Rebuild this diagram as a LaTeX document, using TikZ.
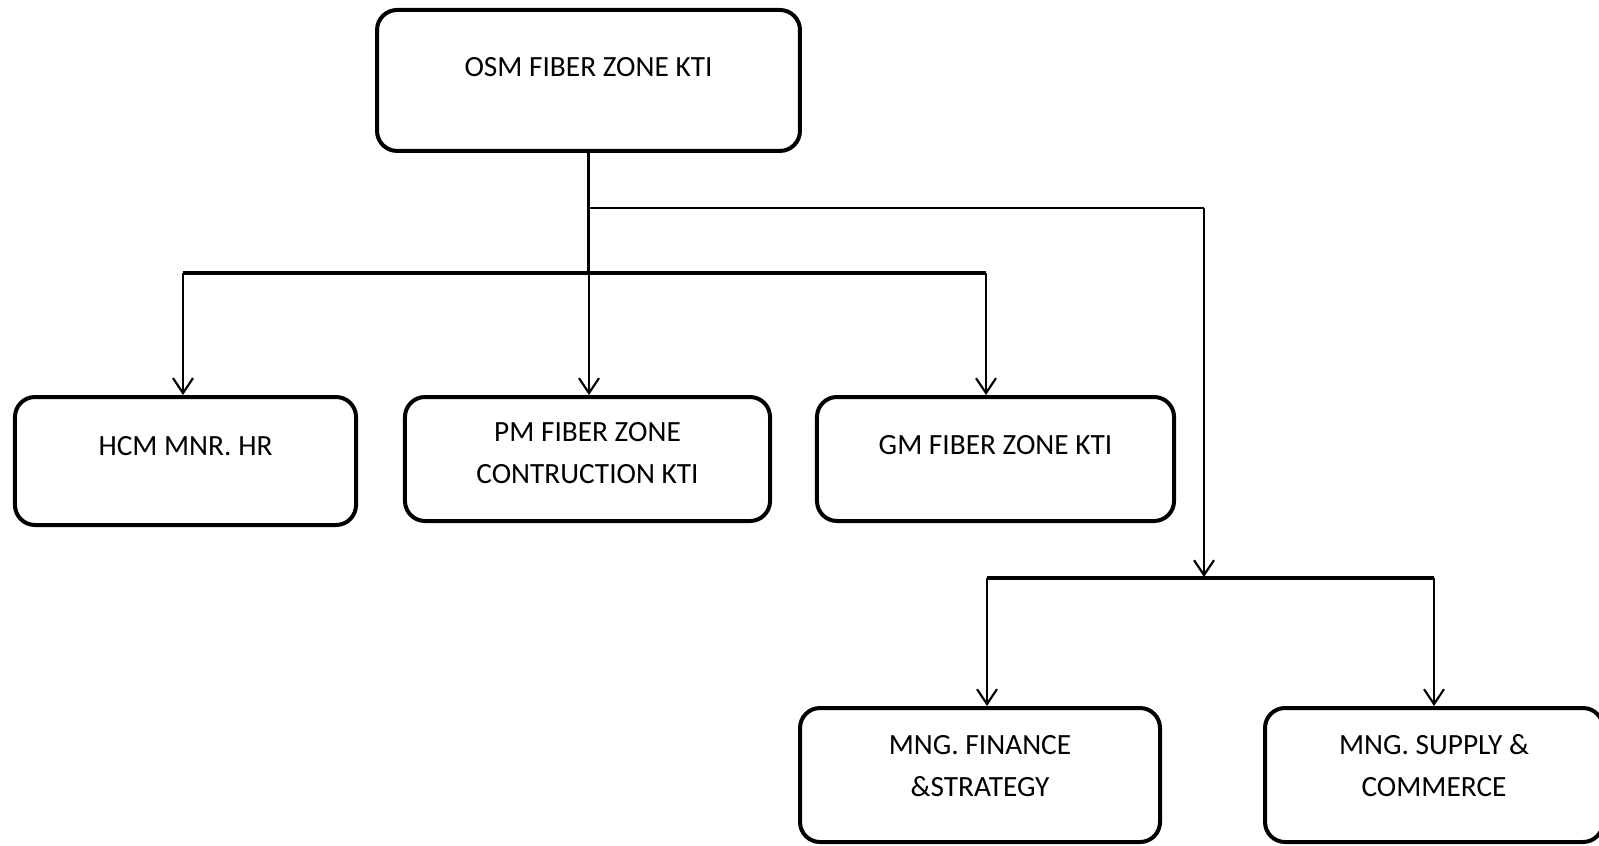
\documentclass[tikz,border=0pt]{standalone}
\usepackage{fontspec}
\setmainfont{Carlito}
\usetikzlibrary{arrows.meta}
\tikzset{
  unitbox/.style={draw, line width=1.5pt, rounded corners=7.5pt, inner sep=0pt,
    align=center, anchor=north, font=\fontsize{11}{15.75}\selectfont},
  feed/.style={line width=0.8pt},
  bus/.style={line width=1.3pt},
  drop/.style={line width=0.8pt, arrows = -{Straight Barb[length=5.6pt,width=7.5pt]}}
}
\begin{document}
\begin{tikzpicture}[x=0.375pt,y=-0.375pt]
\useasboundingbox (0,0) rectangle (1599,845);
% boxes
\node[unitbox, minimum width=158.6pt, text height=25.1pt, text depth=27.75pt] (osm) at (588.5,8) {OSM FIBER ZONE KTI};
\node[unitbox, minimum width=127.9pt, text height=22.1pt, text depth=25.9pt] (hcm) at (185.5,395) {HCM MNR. HR};
\node[unitbox, minimum width=136.9pt, text height=32.6pt, text depth=13.9pt] (pm) at (587.5,395) {PM FIBER ZONE\\CONTRUCTION KTI};
\node[unitbox, minimum width=133.9pt, text height=21.4pt, text depth=25.1pt] (gm) at (995.5,395) {GM FIBER ZONE KTI};
\node[unitbox, minimum width=135pt, text height=33pt, text depth=17.25pt] (fin) at (980,706) {MNG. FINANCE\\\&STRATEGY};
\node[unitbox, minimum width=126.75pt, text height=33pt, text depth=17.25pt] (sup) at (1434,706) {MNG. SUPPLY \&\\COMMERCE};
% bus levels
\coordinate (highbus) at (0,208);
\coordinate (lowbus) at (0,273);
\coordinate (finhub) at (1204,577);
% from the top box
\draw [bus] (osm.south) -- (osm.south |- lowbus);
\draw [feed] (osm.south |- highbus) -- (finhub |- highbus);
\draw [drop] (finhub |- highbus) -- (finhub);
% first row
\foreach \n/\x in {hcm/183, pm/589, gm/986}{
  \coordinate (top-\n) at (\x,273);
  \draw [drop] (top-\n) -- (top-\n |- \n.north);
}
\draw [bus] (top-hcm) -- (top-gm);
% second row
\foreach \n/\x in {fin/987, sup/1434}{
  \coordinate (top-\n) at (\x,578);
  \draw [drop] (top-\n) -- (top-\n |- \n.north);
}
\draw [bus] (top-fin) -- (top-sup);
\end{tikzpicture}
\end{document}
